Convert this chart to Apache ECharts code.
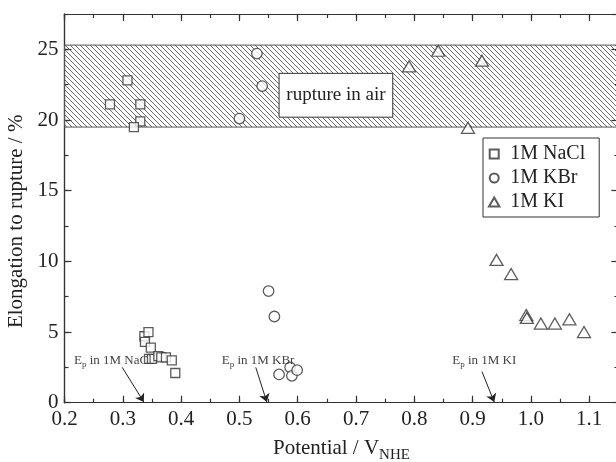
<!DOCTYPE html>
<html>
<head>
<meta charset="utf-8">
<script src="https://cdn.jsdelivr.net/npm/echarts@6/dist/echarts.min.js"></script>
<style>
  html, body { margin: 0; padding: 0; background: #fff; }
  #chart { width: 616px; height: 462px; }
</style>
</head>
<body>
<div id="chart"></div>
<script>
// values
const naclX = [0.278, 0.308, 0.330, 0.330, 0.319, 0.337, 0.338, 0.344, 0.348, 0.345, 0.350, 0.361, 0.366, 0.374, 0.384, 0.390];
const naclY = [21.1, 22.8, 21.1, 19.9, 19.5, 4.7, 4.3, 5.0, 3.9, 3.1, 3.1, 3.3, 3.2, 3.2, 3.0, 2.1];
const kbrX = [0.500, 0.530, 0.539, 0.550, 0.560, 0.568, 0.587, 0.590, 0.599];
const kbrY = [20.1, 24.7, 22.4, 7.9, 6.1, 2.0, 2.5, 1.9, 2.3];
const kiX = [0.791, 0.841, 0.892, 0.916, 0.941, 0.966, 0.992, 0.993, 1.017, 1.041, 1.066, 1.091];
const kiY = [23.8, 24.9, 19.45, 24.2, 10.1, 9.1, 6.2, 6.0, 5.6, 5.6, 5.9, 5.0];

// rupture in air band and label box
const airBand = [19.5, 25.3];
const airBoxX = [0.568, 0.763];
const airBoxY = [20.2, 23.3];

// pitting potentials (arrow targets) and their labels
const epNames = ['NaCl', 'KBr', 'KI'];
const epX = [0.336, 0.547, 0.937];
const epFromX = [0.299, 0.528, 0.916];
const epFromY = [2.5, 2.5, 2.2];
const epLabelX = [0.283, 0.532, 0.920];
const epLabelY = 2.95;

const serif = '"Liberation Serif", "DejaVu Serif", serif';
const ink = '#222';

function zip(xs, ys) {
  return xs.map((x, i) => [x, ys[i]]);
}

// hatch tile for the band
function hatch() {
  const s = 5;
  const c = document.createElement('canvas');
  c.width = s;
  c.height = s;
  const ctx = c.getContext('2d');
  ctx.strokeStyle = '#444';
  ctx.lineWidth = 0.8;
  ctx.beginPath();
  ctx.moveTo(0, 0); ctx.lineTo(s, s);
  ctx.moveTo(-1, s - 1); ctx.lineTo(1, s + 1);
  ctx.moveTo(s - 1, -1); ctx.lineTo(s + 1, 1);
  ctx.stroke();
  return c;
}

function xAxisOf(position, step, len, labels) {
  return {
    type: 'value', position: position, min: 0.2, max: 1.15, interval: step,
    axisLine: { show: true, onZero: false, lineStyle: { color: '#333', width: 1.2 } },
    axisTick: { show: true, inside: true, length: len, lineStyle: { color: '#333', width: 1.2 } },
    axisLabel: labels ? {
      show: true, margin: 6, color: ink, fontFamily: serif, fontSize: 21, showMaxLabel: false,
      formatter: v => v.toFixed(1)
    } : { show: false },
    splitLine: { show: false }
  };
}

function yAxisOf(position, step, len, labels) {
  return {
    type: 'value', position: position, min: 0, max: 27.5, interval: step,
    axisLine: { show: true, onZero: false, lineStyle: { color: '#333', width: 1.2 } },
    axisTick: { show: true, inside: true, length: len, lineStyle: { color: '#333', width: 1.2 } },
    axisLabel: labels ? {
      show: true, margin: 6, color: ink, fontFamily: serif, fontSize: 21, showMaxLabel: false,
      formatter: v => String(v)
    } : { show: false },
    splitLine: { show: false }
  };
}

const chart = echarts.init(document.getElementById('chart'));

const xMain = xAxisOf('bottom', 0.1, 7, true);
xMain.name = '{a|Potential / V}{s|NHE}';
xMain.nameLocation = 'middle';
xMain.nameGap = 34;
xMain.nameTextStyle = {
  rich: {
    a: { fontFamily: serif, fontSize: 21, color: ink, lineHeight: 24, verticalAlign: 'middle' },
    s: { fontFamily: serif, fontSize: 15, color: ink, lineHeight: 15, verticalAlign: 'bottom', padding: [0, 0, -2, 0] }
  }
};

const yMain = yAxisOf('left', 5, 7, true);
yMain.name = 'Elongation to rupture / %';
yMain.nameLocation = 'middle';
yMain.nameGap = 31;
yMain.nameTextStyle = { fontFamily: serif, fontSize: 21, color: ink, padding: [0, 26, 0, 0] };

const symbolStyle = { color: '#fff', borderColor: '#333', borderWidth: 1.3 };

const epRich = {
  a: { fontFamily: serif, fontSize: 13, color: '#444', lineHeight: 16, verticalAlign: 'middle' },
  s: { fontFamily: serif, fontSize: 9, color: '#444', lineHeight: 10, verticalAlign: 'bottom' }
};

chart.setOption({
  animation: false,
  backgroundColor: '#fff',
  grid: { left: 64.5, right: -2.4, top: 14, bottom: 59.3, outerBoundsMode: 'none', containLabel: false },
  xAxis: [
    xMain,
    xAxisOf('bottom', 0.05, 4, false),
    xAxisOf('top', 0.1, 7, false),
    xAxisOf('top', 0.05, 4, false)
  ],
  yAxis: [
    yMain,
    yAxisOf('left', 2.5, 4, false),
    yAxisOf('right', 5, 7, false),
    yAxisOf('right', 2.5, 4, false)
  ],
  legend: {
    data: [
      { name: '1M NaCl', icon: 'path://M0,0H8V8H0Z' },
      { name: '1M KBr', icon: 'path://M4,0A4,4 0 1,1 4,8A4,4 0 1,1 4,0Z' },
      { name: '1M KI', icon: 'path://M5.5,0L11,9.5L0,9.5Z' }
    ],
    orient: 'vertical',
    left: 483,
    top: 138,
    itemWidth: 22,
    itemHeight: 9,
    itemGap: 4,
    padding: [6, 14, 5, 5],
    backgroundColor: '#fff',
    borderColor: '#333',
    borderWidth: 1,
    borderRadius: 0,
    textStyle: { fontFamily: serif, fontSize: 20, color: ink }
  },
  series: [
    {
      name: 'annotations',
      type: 'scatter',
      data: [],
      markArea: {
        silent: true,
        data: [
          [
            { xAxis: 0.2, yAxis: airBand[0], itemStyle: { color: { image: hatch(), repeat: 'repeat' }, borderColor: '#555', borderWidth: 1 } },
            { xAxis: 1.15, yAxis: airBand[1] }
          ],
          [
            {
              xAxis: airBoxX[0], yAxis: airBoxY[0], name: 'rupture in air',
              itemStyle: { color: '#fff', borderColor: '#333', borderWidth: 1 },
              label: { show: true, position: 'inside', fontFamily: serif, fontSize: 19, color: ink }
            },
            { xAxis: airBoxX[1], yAxis: airBoxY[1] }
          ]
        ]
      },
      markLine: {
        silent: true,
        symbol: ['none', 'arrow'],
        symbolSize: 8,
        label: { show: false },
        lineStyle: { color: '#222', width: 1, type: 'solid' },
        data: epNames.map((n, i) => [
          { coord: [epFromX[i], epFromY[i]] },
          { coord: [epX[i], 0.05] }
        ])
      },
      markPoint: {
        silent: true,
        symbol: 'circle',
        symbolSize: 0,
        data: epNames.map((n, i) => ({
          coord: [epLabelX[i], epLabelY],
          label: {
            show: true, position: 'inside',
            formatter: '{a|E}{s|p}{a| in 1M ' + n + '}',
            rich: epRich
          }
        }))
      }
    },
    {
      name: '1M NaCl', type: 'scatter', symbol: 'rect', symbolSize: 9,
      itemStyle: symbolStyle, data: zip(naclX, naclY), z: 3
    },
    {
      name: '1M KBr', type: 'scatter', symbol: 'circle', symbolSize: 10.5,
      itemStyle: symbolStyle, data: zip(kbrX, kbrY), z: 3
    },
    {
      name: '1M KI', type: 'scatter', symbol: 'triangle', symbolSize: [13, 11],
      itemStyle: symbolStyle, data: zip(kiX, kiY), z: 3
    }
  ]
});
</script>
</body>
</html>
